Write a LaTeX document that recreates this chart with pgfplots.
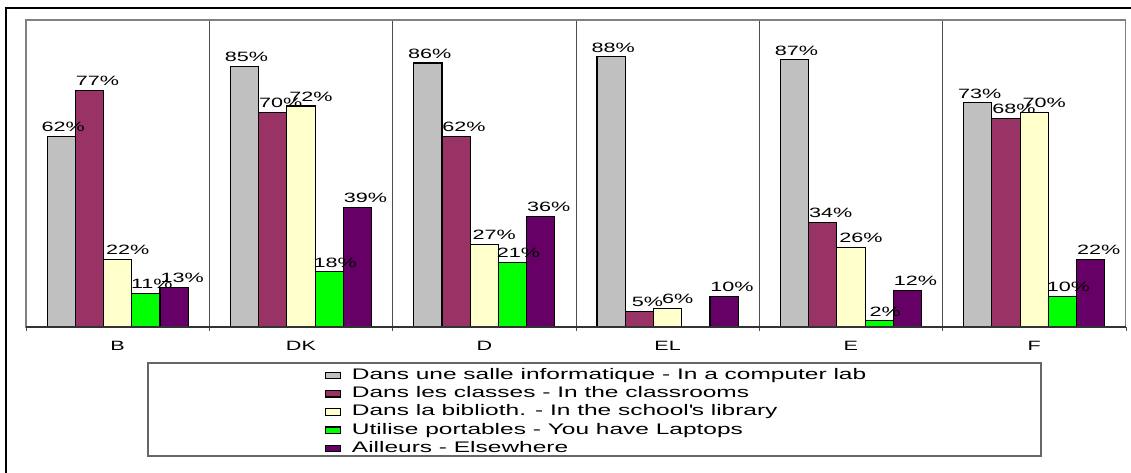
\documentclass[border=0pt]{standalone}
\usepackage{fontspec}
\setmainfont{Liberation Sans}[FakeStretch=1.6]
\usepackage{pgfplots}
\pgfplotsset{compat=1.18}
\definecolor{cgray}{HTML}{C0C0C0}
\definecolor{cmaroon}{HTML}{993366}
\definecolor{cyellow}{HTML}{FFFFCC}
\definecolor{cgreen}{HTML}{00FF00}
\definecolor{cpurple}{HTML}{660066}
\pgfplotsset{boxlegend/.style={legend image code/.code={\draw[fill=#1, draw=black, line width=1.1pt] (0pt,-3.3pt) rectangle (15pt,3.3pt);}}}
\begin{document}
\begin{tikzpicture}[x=1pt,y=1pt]
\useasboundingbox (0,0) rectangle (1131,472);
\draw[black, line width=1.4pt] (6,-20) -- (6,464) -- (1150,464);
\draw[gray!80!black, line width=1.1pt] (148,16) rectangle (1041,109);
\begin{axis}[
  at={(26pt,145pt)}, anchor=south west,
  scale only axis, width=1100pt, height=307pt,
  ybar=0pt, bar width=0.154,
  xmin=-0.5, xmax=5.5, ymin=0, ymax=100,
  xtick={0,...,5}, xticklabels={B,DK,D,EL,E,F},
  major tick length=0pt,
  minor xtick={0.5,1.5,2.5,3.5,4.5},
  minor tick length=4pt,
  extra x ticks={-0.5,5.5}, extra x tick labels={},
  extra x tick style={major tick length=4pt, grid=none},
  xminorgrids, minor grid style={black!70, line width=0.8pt},
  tick align=outside, xtick pos=left, ytick=\empty,
  tick style={black!70, line width=0.8pt},
  axis line style={gray, line width=1.1pt},
  xticklabel style={font=\fontsize{13.5}{16}\selectfont, anchor=north, inner sep=0pt, text height=9.7pt, yshift=-13.5pt},
  nodes near coords={\pgfmathprintnumber[assume math mode=true]{\pgfplotspointmeta}\%},
  every node near coord/.append style={font=\fontsize{13.5}{16}\selectfont, anchor=south, inner sep=0pt, yshift=4pt, black},
  legend style={at={(0.2715,-0.1336)}, anchor=north west, draw=none, fill=none, inner sep=0pt,
    font=\fontsize{15.3}{18}\selectfont, row sep=4pt,
    nodes={inner sep=0pt, text height=11pt, text depth=3.3pt},
    /tikz/every odd column/.append style={column sep=11pt}},
  legend cell align=left,
]
\addplot[fill=cgray, draw=black, line width=1.1pt, boxlegend=cgray, every node near coord/.append style={xshift=2pt}]
  coordinates {(0,62) (1,85) (2,86) (3,88) (4,87) (5,73)};
\addplot[fill=cmaroon, draw=black, line width=1.1pt, boxlegend=cmaroon, every node near coord/.append style={xshift=8pt}]
  coordinates {(0,77) (1,70) (2,62) (3,5) (4,34) (5,68)};
\addplot[fill=cyellow, draw=black, line width=1.1pt, boxlegend=cyellow, every node near coord/.append style={xshift=10pt}]
  coordinates {(0,22) (1,72) (2,27) (3,6) (4,26) (5,70)};
\addplot[fill=cgreen, draw=black, line width=1.1pt, boxlegend=cgreen, every node near coord/.append style={xshift=6pt}]
  coordinates {(0,11) (1,18) (2,21) (4,2) (5,10)};
\addplot[fill=cpurple, draw=black, line width=1.1pt, boxlegend=cpurple, every node near coord/.append style={xshift=8pt}]
  coordinates {(0,13) (1,39) (2,36) (3,10) (4,12) (5,22)};
\draw[black!80, line width=1.1pt] (rel axis cs:0,0) -- (rel axis cs:1,0);
\legend{Dans une salle informatique - In a computer lab,
  Dans les classes - In the classrooms,
  Dans la biblioth. - In the school\textquotesingle s library,
  Utilise portables - You have Laptops,
  Ailleurs - Elsewhere}
\end{axis}
\end{tikzpicture}
\end{document}
